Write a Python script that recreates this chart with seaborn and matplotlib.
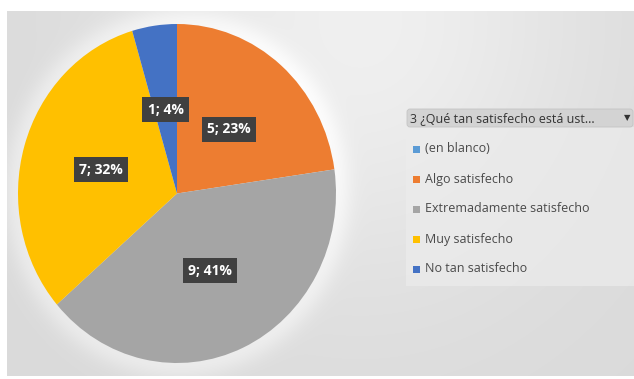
import numpy as np
import matplotlib
matplotlib.use("Agg")
import matplotlib.pyplot as plt
import seaborn as sns
from matplotlib.patches import Rectangle, FancyBboxPatch

sns.set_style("white")
plt.rcParams['font.family'] = ['Open Sans', 'DejaVu Sans']

categories = ["(en blanco)", "Algo satisfecho", "Extremadamente satisfecho",
              "Muy satisfecho", "No tan satisfecho"]
counts = [0, 5, 9, 7, 1]
percents = [0, 23, 41, 32, 4]
colors = ["#5B9BD5", "#ED7D31", "#A5A5A5", "#FFC000", "#4472C4"]
legend_title = "3 ¿Qué tan satisfecho está ust..."

W, H = 634, 379
fig = plt.figure(figsize=(W / 100, H / 100), dpi=100, facecolor="white")

# pie geometry (slightly elliptical like the reference)
pie_left, pie_top, pie_w, pie_h = 18, 24, 318, 339
cx, cy = pie_left + pie_w / 2, pie_top + pie_h / 2
rx, ry = pie_w / 2, pie_h / 2

# background panel with soft gradient
bg_x0, bg_x1, bg_y0, bg_y1 = 7, 634, 11, 376
bg = fig.add_axes([bg_x0 / W, 1 - bg_y1 / H, (bg_x1 - bg_x0) / W, (bg_y1 - bg_y0) / H])
xx, yy = np.meshgrid(np.arange(bg_x0, bg_x1), np.arange(bg_y0, bg_y1))
d = np.sqrt(((xx - cx) / rx) ** 2 + ((yy - cy) / ry) ** 2)
val = 0.855 + 0.085 * np.exp(-((xx - 360) / 230.0) ** 2) * np.exp(-((yy - 20) / 260.0) ** 2)
val += 0.06 * np.exp(-((np.clip(d, 1, None) - 1) / 0.10) ** 2)
val = np.clip(val, 0, 1)
bg.imshow(np.dstack([val, val, val]), aspect="auto", extent=[0, 1, 0, 1])
bg.set_axis_off()

ax = fig.add_axes([pie_left / W, 1 - (pie_top + pie_h) / H, pie_w / W, pie_h / H])
ax.set_facecolor("none")
wedges, _ = ax.pie(counts, colors=colors, startangle=90, counterclock=False,
                   radius=1, wedgeprops=dict(linewidth=0))
ax.set_xlim(-1, 1)
ax.set_ylim(-1, 1)
ax.set_aspect("auto")
ax.set_axis_off()

for w, c, p in zip(wedges, counts, percents):
    if c == 0:
        continue
    mid = np.deg2rad((w.theta1 + w.theta2) / 2)
    r = 0.5
    x, y = r * np.cos(mid), r * np.sin(mid)
    ax.text(x, y, f"{c}; {p}%", ha="center", va="center", fontsize=10,
            fontweight="bold", color="white",
            bbox=dict(boxstyle="square,pad=0.38", fc="#404040", ec="none"))

# legend area
lg = fig.add_axes([406 / W, 1 - 286 / H, (634 - 406) / W, (286 - 108) / H])
lg.set_xlim(0, 228)
lg.set_ylim(178, 0)
lg.set_axis_off()
lg.add_patch(Rectangle((0, 19), 228, 159, fc="#ececec", ec="none", alpha=0.7))
lg.add_patch(FancyBboxPatch((1, 1), 226, 18, boxstyle="round,pad=0,rounding_size=3",
                            fc="#d3d3d3", ec="#c4c4c4", lw=0.6))
lg.text(4, 10.5, legend_title, ha="left", va="center", fontsize=9, color="#333333")
lg.text(221, 10, "▼", ha="center", va="center", fontsize=6, color="#333333",
        family=["DejaVu Sans"])
for i, (name, col) in enumerate(zip(categories, colors)):
    yc = 41 + i * 30
    lg.add_patch(Rectangle((7, yc - 3.5), 6.5, 7, fc=col, ec="none"))
    lg.text(19, yc, name, ha="left", va="center", fontsize=9, color="#4a4a4a")

fig.savefig("out.png", dpi=100, facecolor="white")
